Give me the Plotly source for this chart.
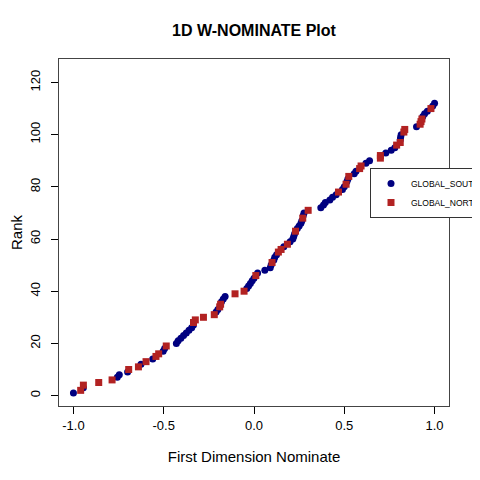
import plotly.graph_objects as go

# W-NOMINATE first dimension estimates, ordered by rank
rank = list(range(1, 113))
nominate = [
    -1.00, -0.96, -0.945, -0.945, -0.86, -0.786, -0.757, -0.746, -0.70, -0.694,
    -0.64, -0.626, -0.598, -0.561, -0.543, -0.528, -0.503, -0.495, -0.486, -0.43,
    -0.42, -0.405, -0.39, -0.375, -0.36, -0.345, -0.335, -0.335, -0.325, -0.28,
    -0.22, -0.21, -0.20, -0.19, -0.185, -0.18, -0.17, -0.16, -0.105, -0.055,
    -0.04, -0.03, -0.02, -0.01, 0.00, 0.01, 0.02, 0.06, 0.09, 0.095,
    0.10, 0.11, 0.115, 0.125, 0.135, 0.15, 0.165, 0.185, 0.20, 0.215,
    0.22, 0.225, 0.23, 0.24, 0.25, 0.26, 0.265, 0.27, 0.273, 0.277,
    0.30, 0.37, 0.385, 0.395, 0.42, 0.435, 0.455, 0.468, 0.49, 0.50,
    0.51, 0.515, 0.52, 0.525, 0.555, 0.565, 0.585, 0.593, 0.62, 0.64,
    0.70, 0.70, 0.73, 0.76, 0.78, 0.79, 0.81, 0.81, 0.812, 0.815,
    0.83, 0.835, 0.90, 0.92, 0.925, 0.93, 0.935, 0.945, 0.96, 0.98,
    0.99, 1.00,
]
group = list(
    "BRBRRRBBBR"
    "RBRBRRBBRB"
    "BBBBBBBRRR"
    "RBBRRBBBRR"
    "BBBBBRBBBB"
    "RBBBRRBRBB"
    "BBRBBBBRBB"
    "RBBBBBBRBB"
    "RBBRBBRRBB"
    "RRBBBRRBBB"
    "RRBRRRBBBR"
    "BB"
)

x_ticks = [-1.0, -0.5, 0.0, 0.5, 1.0]
x_tick_labels = ["-1.0", "-0.5", "0.0", "0.5", "1.0"]
y_ticks = [0, 20, 40, 60, 80, 100, 120]

south_x = [x for x, g in zip(nominate, group) if g == "B"]
south_y = [r for r, g in zip(rank, group) if g == "B"]
north_x = [x for x, g in zip(nominate, group) if g == "R"]
north_y = [r for r, g in zip(rank, group) if g == "R"]

fig = go.Figure()
fig.add_trace(go.Scatter(x=south_x, y=south_y, mode="markers", name="GLOBAL_SOUTH",
                         marker=dict(symbol="circle", size=7, color="#000080")))
fig.add_trace(go.Scatter(x=north_x, y=north_y, mode="markers", name="GLOBAL_NORTH",
                         marker=dict(symbol="square", size=7, color="#B22222")))

# the page body adds an 8px offset, margins are trimmed to compensate
font = "Liberation Sans, Arial, Helvetica, sans-serif"
fig.update_layout(
    width=480, height=480,
    margin=dict(l=51, r=39, t=51, b=82, autoexpand=False),
    plot_bgcolor="white", paper_bgcolor="white",
    font=dict(family=font, size=13, color="black"),
    title=dict(text="<b>1D W-NOMINATE Plot</b>", x=(51 + 441) / 2 / 480, xanchor="center",
               y=1 - 22 / 480, yanchor="middle", font=dict(size=16)),
    showlegend=True,
    legend=dict(xref="container", yref="container", x=362 / 480, y=1 - 160 / 480,
                xanchor="left", yanchor="top",
                bordercolor="#333", borderwidth=1, bgcolor="white",
                font=dict(size=8.5), itemwidth=30, tracegroupgap=0),
)
fig.update_xaxes(
    range=[-1.08, 1.08], tickvals=x_ticks, ticktext=x_tick_labels, automargin=False,
    ticks="outside", ticklen=7, tickcolor="black", showgrid=False, zeroline=False,
    showline=True, mirror=True, linecolor="#444", linewidth=1,
    title=dict(text="First Dimension Nominate", font=dict(size=15), standoff=19),
)
fig.update_yaxes(
    range=[-4, 129], tickvals=y_ticks, tickangle=-90, automargin=False,
    ticks="outside", ticklen=7, tickcolor="black", showgrid=False, zeroline=False,
    showline=True, mirror=True, linecolor="#444", linewidth=1, ticklabelstandoff=6,
    title=dict(text="Rank", font=dict(size=15), standoff=23),
)

fig.write_html("out.html")
